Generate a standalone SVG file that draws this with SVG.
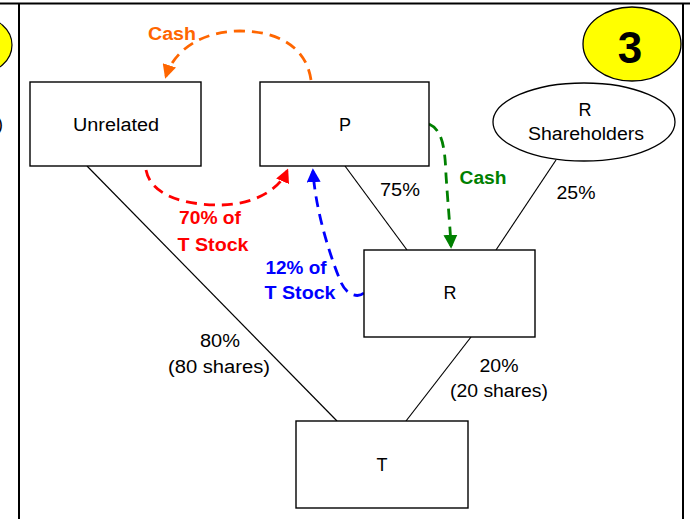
<svg xmlns="http://www.w3.org/2000/svg" width="690" height="519" viewBox="0 0 690 519">
<style>
.box{fill:#fff;stroke:#000;stroke-width:1.4}
.ln{stroke:#000;stroke-width:1.2;fill:none}
.t{font-family:"Liberation Sans",Arial,sans-serif;font-size:18px;fill:#000;text-anchor:middle}
.b{font-family:"Liberation Sans",Arial,sans-serif;font-size:18px;font-weight:bold;text-anchor:middle}
.d{fill:none;stroke-width:2.8;stroke-dasharray:11 7}
</style>
<defs>
<marker id="mo" viewBox="0 0 10 10" refX="8" refY="5" markerWidth="5" markerHeight="5" orient="auto" markerUnits="strokeWidth"><path d="M0,0 L10,5 L0,10 z" fill="#ff6600"/></marker>
<marker id="mr" viewBox="0 0 10 10" refX="8" refY="5" markerWidth="5" markerHeight="5" orient="auto" markerUnits="strokeWidth"><path d="M0,0 L10,5 L0,10 z" fill="#ff0000"/></marker>
<marker id="mb" viewBox="0 0 10 10" refX="8" refY="5" markerWidth="5" markerHeight="5" orient="auto" markerUnits="strokeWidth"><path d="M0,0 L10,5 L0,10 z" fill="#0000ff"/></marker>
<marker id="mg" viewBox="0 0 10 10" refX="8" refY="5" markerWidth="5" markerHeight="5" orient="auto" markerUnits="strokeWidth"><path d="M0,0 L10,5 L0,10 z" fill="#008000"/></marker>
</defs>
<rect x="0" y="0" width="690" height="519" fill="#fff"/>
<g id="panel">
<line x1="0" y1="3.5" x2="690" y2="3.5" stroke="#000" stroke-width="2"/>
<line x1="19" y1="3" x2="19" y2="519" stroke="#000" stroke-width="2"/>
<line x1="683" y1="3" x2="683" y2="519" stroke="#000" stroke-width="2"/>
<ellipse cx="-20" cy="45" rx="32" ry="28" fill="#ffff00" stroke="#000" stroke-width="1.2"/>
<text x="-3" y="130" font-family="Liberation Sans,Arial,sans-serif" font-size="18">)</text>
</g>
<g id="connectors">
<line class="ln" x1="87" y1="166" x2="337" y2="421"/>
<line class="ln" x1="345" y1="166" x2="407" y2="250"/>
<line class="ln" x1="556" y1="160" x2="496" y2="250"/>
<line class="ln" x1="471" y1="337" x2="406" y2="421"/>
<path class="d" stroke="#ff6600" marker-end="url(#mo)" d="M311,80 C306,45 275,31 240,31 C205,31 175,48 166,76"/>
<path class="d" stroke="#ff0000" marker-end="url(#mr)" d="M146,170 C152,200 195,205 220,205 C250,205 278,192 287,171"/>
<path class="d" stroke="#0000ff" marker-end="url(#mb)" d="M364,293 C358,298 346,296 340,280 C327,248 315,205 313,171"/>
<path class="d" stroke="#008000" marker-end="url(#mg)" d="M429,124 C443,130 445,150 446,175 C448,205 450,225 451,246"/>
</g>
<g id="unrelated">
<rect class="box" x="30" y="82" width="171" height="84"/>
<text x="116" y="131" class="t" textLength="86" lengthAdjust="spacingAndGlyphs">Unrelated</text>
</g>
<g id="p">
<rect class="box" x="260" y="82" width="169" height="84"/>
<text x="345" y="131" class="t">P</text>
</g>
<g id="rshareholders">
<ellipse cx="584" cy="122" rx="91" ry="39" fill="#fff" stroke="#000" stroke-width="1.3"/>
<text x="585" y="116" class="t">R</text>
<text x="586" y="140" class="t" textLength="116" lengthAdjust="spacingAndGlyphs">Shareholders</text>
</g>
<g id="badge3">
<ellipse cx="632" cy="44" rx="49" ry="37" fill="#ffff00" stroke="#000" stroke-width="1.3"/>
<text x="630" y="63" font-family="Liberation Sans,Arial,sans-serif" font-size="44" font-weight="bold" text-anchor="middle">3</text>
</g>
<g id="r">
<rect class="box" x="364" y="250" width="171" height="87"/>
<text x="450" y="299" class="t">R</text>
</g>
<g id="t">
<rect class="box" x="296" y="421" width="172" height="87"/>
<text x="382" y="471" class="t">T</text>
</g>
<g id="labels">
<text x="400" y="196" class="t" textLength="40" lengthAdjust="spacingAndGlyphs">75%</text>
<text x="576" y="199" class="t" textLength="39" lengthAdjust="spacingAndGlyphs">25%</text>
<text x="220" y="347" class="t" textLength="40" lengthAdjust="spacingAndGlyphs">80%</text>
<text x="219" y="373" class="t" textLength="102" lengthAdjust="spacingAndGlyphs">(80 shares)</text>
<text x="499" y="372" class="t" textLength="39" lengthAdjust="spacingAndGlyphs">20%</text>
<text x="499" y="397" class="t" textLength="98" lengthAdjust="spacingAndGlyphs">(20 shares)</text>
<text x="172" y="40" class="b" fill="#ff6600" textLength="48" lengthAdjust="spacingAndGlyphs">Cash</text>
<text x="483" y="184" class="b" fill="#008000" textLength="47" lengthAdjust="spacingAndGlyphs">Cash</text>
<text x="210" y="224" class="b" fill="#ff0000" textLength="62" lengthAdjust="spacingAndGlyphs">70% of</text>
<text x="213" y="251" class="b" fill="#ff0000" textLength="71" lengthAdjust="spacingAndGlyphs">T Stock</text>
<text x="296" y="274" class="b" fill="#0000ff" textLength="61" lengthAdjust="spacingAndGlyphs">12% of</text>
<text x="300" y="299" class="b" fill="#0000ff" textLength="71" lengthAdjust="spacingAndGlyphs">T Stock</text>
</g>
</svg>
